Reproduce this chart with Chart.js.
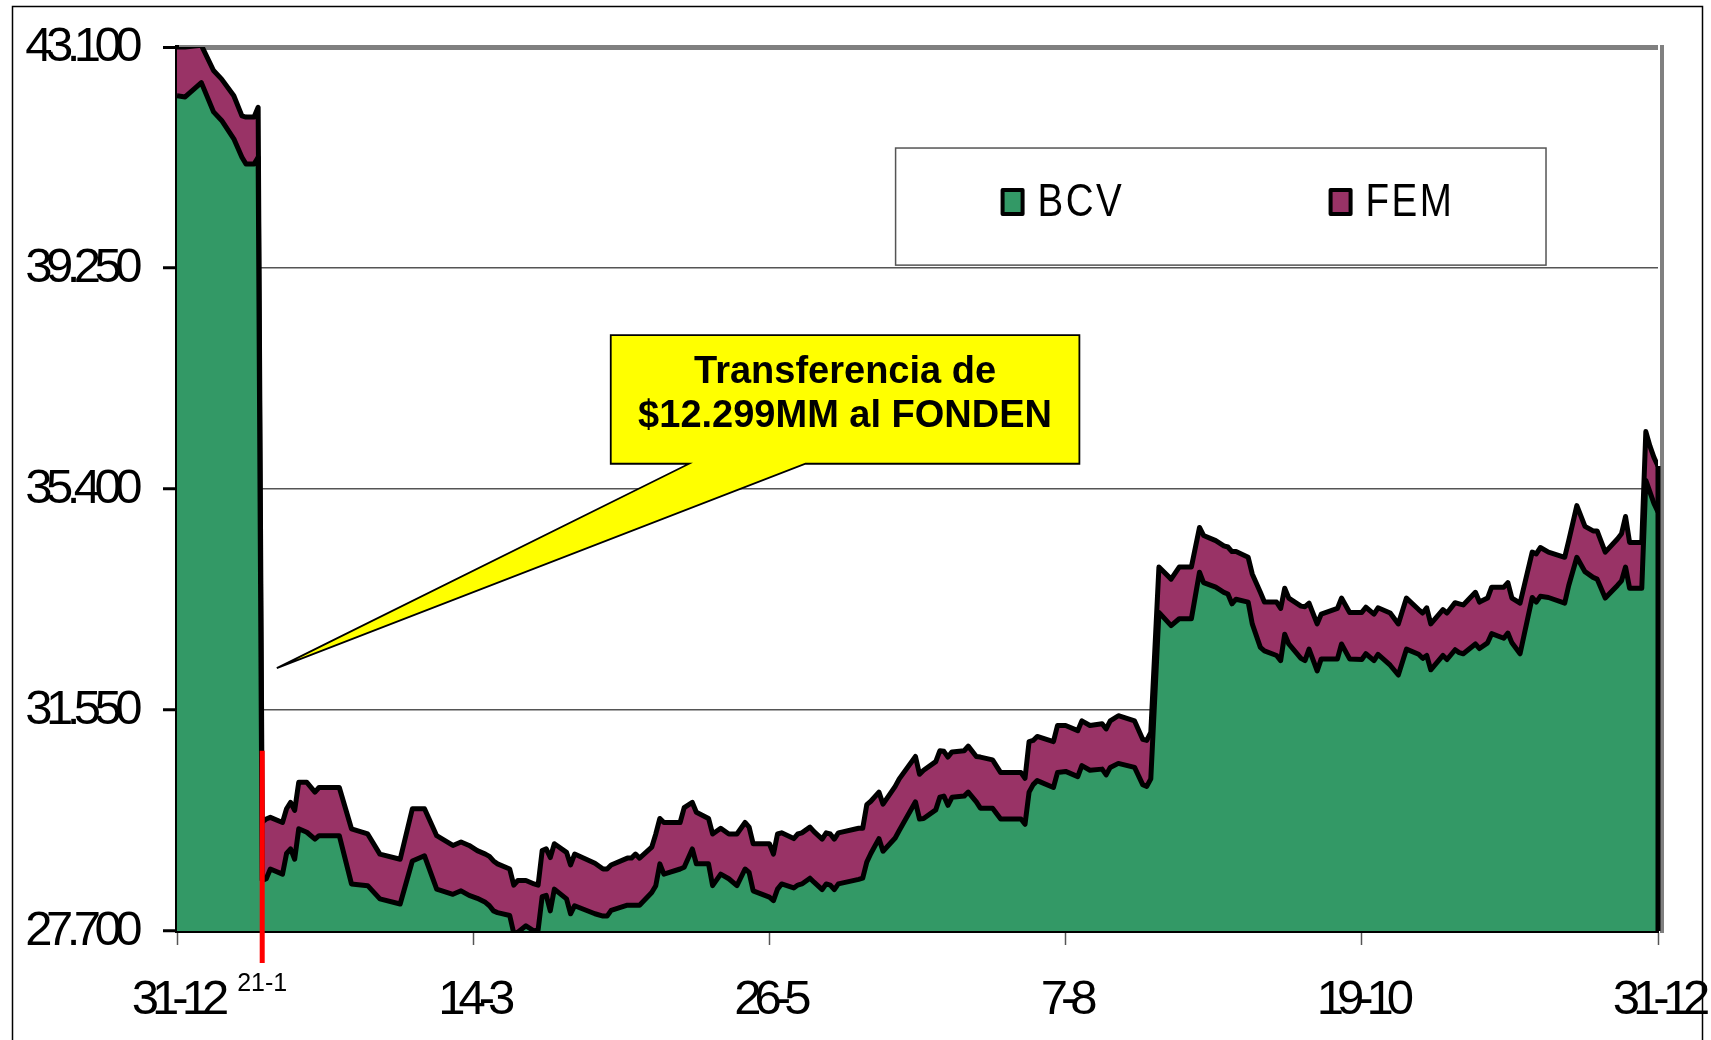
<!DOCTYPE html>
<html>
<head>
<meta charset="utf-8">
<script src="https://cdn.jsdelivr.net/npm/chart.js@4.4.1/dist/chart.umd.min.js"></script>
<style>
  html, body { margin: 0; padding: 0; background: #fff; }
  #wrap { position: relative; width: 1711px; height: 1040px; }
</style>
</head>
<body>
<div id="wrap"><canvas id="reservas"></canvas></div>
<script>
// dias desde el 31-12, reservas en MM$
const dias = [
  0, 2, 6, 9, 11, 14, 16, 17, 19, 20,
  21, 22, 23, 26, 27, 28, 29, 30, 32, 34,
  35, 40, 43, 47, 50, 55, 58, 61, 64, 68,
  70, 72, 74, 76, 77, 78, 79, 82, 83, 84,
  86, 88, 89, 90, 91, 92, 93, 96, 97, 98,
  103, 105, 106, 107, 111, 112, 113, 114, 117, 118,
  119, 120, 124, 125, 127, 128, 131, 132, 134, 136,
  138, 140, 141, 142, 146, 147, 148, 149, 152, 153,
  154, 156, 157, 159, 160, 161, 162, 163, 168, 169,
  170, 171, 173, 174, 177, 178, 182, 183, 184, 187,
  188, 189, 190, 191, 194, 195, 197, 198, 201, 203,
  208, 209, 210, 211, 212, 216, 217, 219, 222, 223,
  225, 228, 229, 230, 232, 236, 238, 239, 240, 242,
  245, 247, 250, 252, 253, 256, 258, 259, 260, 261,
  264, 265, 267, 268, 271, 272, 273, 274, 277, 278,
  279, 281, 282, 286, 287, 289, 292, 293, 295, 296,
  299, 301, 303, 306, 307, 308, 309, 312, 313, 315,
  316, 317, 320, 321, 323, 324, 327, 328, 329, 331,
  334, 335, 336, 338, 342, 343, 345, 347, 349, 350,
  352, 355, 356, 357, 358, 361, 362, 363, 364, 365
];

const bcv = [
  42250, 42230, 42480, 41970, 41820, 41500, 41180, 41060, 41060, 41180,
  28580, 28610, 28780, 28690, 29050, 29130, 28950, 29480, 29420, 29300,
  29360, 29360, 28520, 28490, 28260, 28170, 28920, 29010, 28430, 28340,
  28400, 28320, 28270, 28200, 28140, 28050, 28020, 27970, 27660, 27680,
  27790, 27700, 27720, 28300, 28320, 28050, 28430, 28260, 28000, 28140,
  28000, 27960, 27960, 28060, 28150, 28150, 28150, 28150, 28370, 28490,
  28870, 28690, 28780, 28810, 29130, 28870, 28870, 28490, 28690, 28610,
  28490, 28780, 28720, 28400, 28290, 28230, 28430, 28520, 28450, 28500,
  28520, 28620, 28550, 28420, 28520, 28500, 28420, 28520, 28600, 28620,
  28900, 29050, 29310, 29090, 29320, 29450, 29950, 29650, 29660, 29810,
  30030, 30050, 29890, 30030, 30050, 30120, 29950, 29840, 29840, 29650,
  29650, 29560, 30120, 30250, 30320, 30200, 30460, 30480, 30390, 30580,
  30500, 30520, 30420, 30550, 30620, 30550, 30250, 30220, 30350, 33250,
  33020, 33140, 33140, 33950, 33770, 33690, 33600, 33570, 33400, 33480,
  33430, 33050, 32640, 32580, 32500, 32410, 32870, 32700, 32450, 32410,
  32610, 32230, 32440, 32440, 32700, 32440, 32430, 32530, 32410, 32520,
  32330, 32160, 32610, 32520, 32450, 32500, 32250, 32500, 32430, 32600,
  32550, 32530, 32700, 32620, 32720, 32880, 32800, 32890, 32720, 32530,
  33510, 33430, 33530, 33510, 33410, 33720, 34210, 33960, 33860, 33830,
  33500, 33720, 33800, 34040, 33670, 33670, 35550, 35350, 35150, 35000
];

const fem = [
  850, 870, 650, 720, 720, 750, 720, 820, 820, 870,
  1020, 1040, 900, 900, 780, 810, 850, 810, 870, 820,
  840, 840, 960, 900, 780, 780, 910, 820, 930, 850,
  850, 870, 830, 840, 860, 870, 850, 810, 840, 900,
  790, 820, 780, 800, 810, 930, 790, 810, 850, 900,
  880, 820, 820, 790, 820, 820, 890, 820, 790, 900,
  790, 900, 810, 1040, 810, 900, 790, 900, 800, 780,
  900, 810, 790, 820, 930, 810, 960, 890, 860, 890,
  890, 890, 880, 880, 890, 890, 880, 890, 890, 870,
  1000, 910, 810, 820, 900, 900, 790, 780, 840, 840,
  810, 780, 840, 790, 790, 800, 790, 890, 840, 810,
  810, 800, 880, 770, 770, 800, 820, 800, 800, 780,
  780, 790, 800, 810, 830, 810, 790, 800, 810, 790,
  810, 900, 900, 780, 820, 810, 810, 820, 910, 830,
  780, 870, 960, 850, 930, 910, 800, 800, 910, 940,
  800, 820, 780, 880, 800, 810, 820, 810, 810, 810,
  910, 890, 890, 780, 790, 830, 800, 800, 810, 820,
  850, 850, 900, 810, 780, 810, 890, 880, 780, 880,
  790, 840, 850, 790, 800, 780, 900, 790, 810, 840,
  800, 810, 820, 880, 800, 800, 850, 800, 800, 800
];

const series = ['BCV', 'FEM'];
const colores = ['#339966', '#993366'];
const tickDias = [0, 73, 146, 219, 292, 365];
const tickFechas = ['31-12', '14-3', '26-5', '7-8', '19-10', '31-12'];
const yTicks = [27700, 31550, 35400, 39250, 43100];

const fuente = '"Liberation Sans", Arial, sans-serif';

function miles(v) {
  return String(v).replace(/\B(?=(\d{3})+(?!\d))/g, '.');
}

// las etiquetas de los ejes van muy apretadas en el original
const apretado = { x: '-7px', y: '-6.5px' };

const decorado = {
  id: 'decorado',
  afterLayout(chart) {
    for (const id of ['x', 'y']) {
      const s = chart.scales[id];
      if (s._apretado) continue;
      const orig = s.drawLabels;
      s.drawLabels = function (area) {
        this.ctx.save();
        this.ctx.letterSpacing = apretado[id];
        orig.call(this, area);
        this.ctx.restore();
      };
      s._apretado = true;
    }
  },
  afterDatasetsDraw(chart) {
    const { ctx, chartArea: a, scales: { y } } = chart;
    const n = bcv.length - 1;
    ctx.save();
    ctx.strokeStyle = '#808080';
    ctx.lineWidth = 4;
    ctx.beginPath();
    ctx.moveTo(a.right + 4, a.top - 2);
    ctx.lineTo(a.right + 4, a.bottom + 2);
    ctx.stroke();
    ctx.strokeStyle = '#000';
    ctx.lineWidth = 5;
    ctx.beginPath();
    ctx.moveTo(a.right, y.getPixelForValue(bcv[n] + fem[n]));
    ctx.lineTo(a.right, a.bottom);
    ctx.stroke();
    ctx.restore();
  },
  afterDraw(chart) {
    const { ctx, chartArea: a, scales: { x, y } } = chart;
    ctx.save();

    // marco exterior
    ctx.strokeStyle = '#000';
    ctx.lineWidth = 1.5;
    ctx.strokeRect(12.5, 6.5, 1690, 1100);

    // leyenda
    const lx0 = x.getPixelForValue(177.1), lx1 = x.getPixelForValue(337.4);
    const ly0 = y.getPixelForValue(41340), ly1 = y.getPixelForValue(39300);
    ctx.fillStyle = '#fff';
    ctx.fillRect(lx0, ly0, lx1 - lx0, ly1 - ly0);
    ctx.strokeStyle = '#555';
    ctx.lineWidth = 1.5;
    ctx.strokeRect(lx0, ly0, lx1 - lx0, ly1 - ly0);
    const offs = [105, 433];
    series.forEach((s, i) => {
      const sx = lx0 + offs[i], sy = ly0 + 40;
      ctx.fillStyle = colores[i];
      ctx.fillRect(sx + 2, sy + 2, 20, 24);
      ctx.strokeStyle = '#000';
      ctx.lineWidth = 4;
      ctx.lineJoin = 'round';
      ctx.strokeRect(sx + 2, sy + 2, 20, 24);
      // texto estrecho y espaciado como el original
      ctx.save();
      ctx.translate(sx + 37, ly0 + 68);
      ctx.scale(0.82, 1);
      ctx.font = '47px ' + fuente;
      ctx.letterSpacing = '3px';
      ctx.textBaseline = 'alphabetic';
      ctx.textAlign = 'left';
      ctx.fillStyle = '#000';
      ctx.fillText(s, 0, 0);
      ctx.restore();
    });

    // globo de la transferencia
    const bx0 = x.getPixelForValue(106.9), bx1 = x.getPixelForValue(222.4);
    const by0 = y.getPixelForValue(38080), by1 = y.getPixelForValue(35840);
    const p0 = x.getPixelForValue(126.2), p1 = x.getPixelForValue(154.9);
    const tx = x.getPixelForValue(24.6), ty = y.getPixelForValue(32280);
    ctx.beginPath();
    ctx.moveTo(bx0, by0);
    ctx.lineTo(bx1, by0);
    ctx.lineTo(bx1, by1);
    ctx.lineTo(p1, by1);
    ctx.lineTo(tx, ty);
    ctx.lineTo(p0, by1);
    ctx.lineTo(bx0, by1);
    ctx.closePath();
    ctx.fillStyle = '#ffff00';
    ctx.fill();
    ctx.strokeStyle = '#000';
    ctx.lineWidth = 1.8;
    ctx.lineJoin = 'miter';
    ctx.stroke();
    ctx.fillStyle = '#000';
    ctx.font = 'bold 38px ' + fuente;
    ctx.textAlign = 'center';
    ctx.textBaseline = 'alphabetic';
    const cx = (bx0 + bx1) / 2;
    ctx.fillText('Transferencia de', cx, by0 + 48);
    ctx.fillText('$12.299MM al FONDEN', cx, by0 + 92);

    // linea roja del 21-1
    const rx = x.getPixelForValue(21);
    ctx.strokeStyle = '#ff0000';
    ctx.lineWidth = 5;
    ctx.beginPath();
    ctx.moveTo(rx, y.getPixelForValue(30840));
    ctx.lineTo(rx, a.bottom + 32);
    ctx.stroke();
    ctx.fillStyle = '#000';
    ctx.font = '25px ' + fuente;
    ctx.textBaseline = 'middle';
    ctx.fillText('21-1', rx, a.bottom + 53);
    ctx.restore();
  }
};

new Chart(document.getElementById('reservas'), {
  type: 'line',
  data: {
    datasets: series.map((s, i) => ({
      label: s,
      data: dias.map((d, k) => ({ x: d, y: (i === 0 ? bcv : fem)[k] })),
      borderColor: '#000',
      borderWidth: 5,
      borderJoinStyle: 'round',
      backgroundColor: colores[i],
      fill: i === 0 ? 'start' : '-1',
      pointRadius: 0,
      tension: 0
    }))
  },
  options: {
    responsive: true,
    maintainAspectRatio: false,
    animation: false,
    layout: { padding: { top: 47, right: 53, left: 0, bottom: 0 } },
    plugins: {
      legend: { display: false },
      tooltip: { enabled: false }
    },
    scales: {
      x: {
        type: 'linear',
        min: 0,
        max: 365,
        afterBuildTicks: s => { s.ticks = tickDias.map(v => ({ value: v })); },
        afterFit: s => { s.height = 109; s.paddingLeft = 0; s.paddingRight = 0; },
        ticks: {
          callback: v => tickFechas[tickDias.indexOf(v)],
          autoSkip: false,
          maxRotation: 0,
          padding: 26,
          color: '#000',
          font: { family: fuente, size: 49 }
        },
        grid: { drawOnChartArea: false, tickLength: 14, tickColor: '#555', tickWidth: 1.5 },
        border: { color: '#000', width: 4 }
      },
      y: {
        stacked: true,
        min: 27700,
        max: 43100,
        afterBuildTicks: s => { s.ticks = yTicks.map(v => ({ value: v })); },
        afterFit: s => { s.width = 177; s.paddingTop = 0; s.paddingBottom = 0; },
        ticks: {
          callback: v => miles(v),
          padding: 27,
          color: '#000',
          font: { family: fuente, size: 49 }
        },
        grid: {
          color: c => c.index === yTicks.length - 1 ? '#808080' : (c.index === 0 ? 'rgba(0,0,0,0)' : '#555'),
          lineWidth: c => c.index === yTicks.length - 1 ? 5 : 1.5,
          tickColor: '#000',
          tickWidth: 3,
          tickLength: 14
        },
        border: { color: '#000', width: 4 }
      }
    }
  },
  plugins: [decorado]
});
</script>
</body>
</html>
